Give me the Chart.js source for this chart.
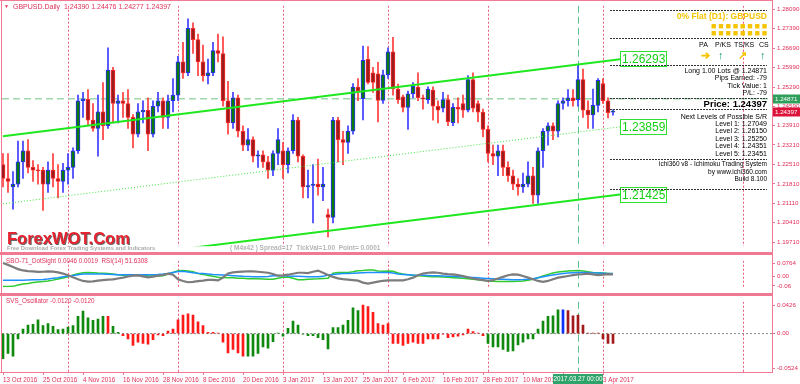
<!DOCTYPE html>
<html><head><meta charset="utf-8">
<script src="https://cdn.jsdelivr.net/npm/chart.js@4.4.0/dist/chart.umd.min.js"></script>
<style>
html,body{margin:0;padding:0;background:#fff;}
#wrap{position:relative;width:800px;height:384px;overflow:hidden;background:#fff;font-family:"Liberation Sans",Arial,sans-serif;}
canvas{position:absolute;left:0;}
.t{position:absolute;white-space:nowrap;line-height:1;}
.ri{position:absolute;right:33px;white-space:nowrap;line-height:1;font-size:7px;color:#000;text-align:right;}
.dash{position:absolute;left:610px;width:157px;height:1px;background:repeating-linear-gradient(to right,#333 0 2px,transparent 2px 3px);}
.pk{position:absolute;background:#f07a94;}
</style></head><body><div id="wrap">
<canvas id="c1" width="800" height="252" style="top:0"></canvas>
<canvas id="c2" width="800" height="38" style="top:255px"></canvas>
<canvas id="c3" width="800" height="88" style="top:296px"></canvas>

<div class="pk" style="left:0;top:0;width:773px;height:1px"></div>
<div class="pk" style="left:1px;top:0;width:1px;height:373px"></div>
<div class="pk" style="left:772px;top:0;width:1px;height:373px"></div>
<div class="pk" style="left:0;top:252px;width:773px;height:3px"></div>
<div class="pk" style="left:0;top:293px;width:773px;height:3px"></div>
<div class="pk" style="left:0;top:372px;width:773px;height:1px"></div>

<div class="t" style="left:4px;top:4px;font-size:5px;color:#e0305a">▼</div>
<div class="t" style="left:13px;top:3px;font-size:7px;color:#e0305a">GBPUSD.Daily&nbsp;&nbsp;1.24390 1.24476 1.24277 1.24397</div>

<div class="dash" style="top:10px"></div>
<div class="ri" style="top:12px;font-size:8.5px;font-weight:bold;color:#f5c400">0% Flat (D1): GBPUSD</div>
<div class="ri" style="top:22px;font-size:9px;color:#f5c400;letter-spacing:1.8px;right:31px">■■■■■■■■</div>
<div class="ri" style="top:29px;font-size:9px;color:#f5c400;letter-spacing:1.8px;right:31px">■■■■■■■■</div>
<div class="dash" style="top:38px"></div>
<div class="t" style="left:699px;top:41px;font-size:7px;color:#000">PA</div>
<div class="t" style="left:715px;top:41px;font-size:7px;color:#000">P/KS</div>
<div class="t" style="left:734px;top:41px;font-size:7px;color:#000">TS/KS</div>
<div class="t" style="left:759px;top:41px;font-size:7px;color:#000">CS</div>
<div class="t" style="left:701px;top:50px;font-size:11px;font-weight:bold;color:#f5c400">➔</div>
<div class="t" style="left:718px;top:50px;font-size:11px;font-weight:bold;color:#12a060">↑</div>
<div class="t" style="left:738px;top:50px;font-size:11px;font-weight:bold;color:#f5c400">↗</div>
<div class="t" style="left:760px;top:50px;font-size:11px;font-weight:bold;color:#12a060">↑</div>
<div class="dash" style="top:65px"></div>
<div class="ri" style="top:67px">Long 1.00 Lots @ 1.24871</div>
<div class="ri" style="top:74px">Pips Earned: -79</div>
<div class="ri" style="top:82px">Tick Value: 1</div>
<div class="ri" style="top:89px">P/L: -79</div>
<div class="dash" style="top:98px"></div>
<div class="ri" style="top:99px;font-size:9.5px;font-weight:bold">Price: 1.24397</div>
<div class="dash" style="top:109px"></div>
<div class="ri" style="top:113px">Next Levels of Possible S/R</div>
<div class="ri" style="top:120px">Level 1: 1.27049</div>
<div class="ri" style="top:127px">Level 2: 1.26150</div>
<div class="ri" style="top:135px">Level 3: 1.25250</div>
<div class="ri" style="top:142px">Level 4: 1.24351</div>
<div class="ri" style="top:150px">Level 5: 1.23451</div>
<div class="dash" style="top:159px"></div>
<div class="ri" style="top:161px;font-size:6.5px">ichi360 v8 - Ichimoku Trading System</div>
<div class="ri" style="top:169px;font-size:6.5px">by www.ichi360.com</div>
<div class="ri" style="top:176px;font-size:6.5px">Build 8.100</div>
<div class="dash" style="top:189px"></div>

<div class="t" style="left:7px;top:230px;font-size:16.5px;font-weight:bold;color:#e8222e;text-shadow:1px 1px 0 #666">ForexWOT.Com</div>
<div class="t" style="left:7px;top:246px;font-size:5.8px;font-weight:bold;color:#aaa">Free Download Forex Trading Systems and Indicators</div>
<div class="t" style="left:230px;top:245px;font-size:6.5px;font-weight:bold;color:#b4b4b4">( M4x42 ) Spread=17&nbsp; TickVal=1.00&nbsp; Point= 0.0001</div>
<div class="t" style="left:6px;top:258px;font-size:6.3px;color:#e0305a">SBO-71_DotSight 0.0046 0.0019&nbsp; RSI(14) 51.6308</div>
<div class="t" style="left:6px;top:298px;font-size:6.3px;color:#e0305a">SVS_Oscillator -0.0120 -0.0120</div>
</div>
<script>
// ---------- DATA ----------
const OPEN  = [1.2250,1.2200,1.2170,1.2180,1.2260,1.2300,1.2240,1.2230,1.2230,1.2180,1.2230,1.2200,1.2190,1.2230,1.2240,1.2300,1.2480,1.2485,1.2410,1.2380,1.2440,1.2390,1.2590,1.2470,1.2480,1.2470,1.2420,1.2360,1.2440,1.2445,1.2360,1.2460,1.2480,1.2420,1.2480,1.2500,1.2620,1.2580,1.2740,1.2700,1.2620,1.2570,1.2580,1.2660,1.2650,1.2480,1.2400,1.2490,1.2370,1.2320,1.2340,1.2280,1.2285,1.2260,1.2230,1.2290,1.2300,1.2250,1.2300,1.2410,1.2280,1.2170,1.2175,1.2180,1.2170,1.2070,1.2060,1.2410,1.2340,1.2330,1.2370,1.2529,1.2487,1.2629,1.2580,1.2577,1.2481,1.2573,1.2656,1.2522,1.2494,1.2456,1.2505,1.2529,1.2488,1.2484,1.2518,1.2460,1.2453,1.2484,1.2401,1.2456,1.2470,1.2446,1.2556,1.2470,1.2439,1.2377,1.2290,1.2280,1.2300,1.2240,1.2210,1.2180,1.2170,1.2180,1.2210,1.2140,1.2300,1.2370,1.2390,1.2370,1.2470,1.2480,1.2490,1.2484,1.2556,1.2446,1.2429,1.2463,1.2542,1.2480,1.24390];
const HIGH  = [1.2290,1.2290,1.2225,1.2335,1.2335,1.2340,1.2265,1.2250,1.2240,1.2260,1.2290,1.2250,1.2255,1.2290,1.2310,1.2500,1.2510,1.2520,1.2470,1.2500,1.2545,1.2670,1.2600,1.2500,1.2510,1.2520,1.2430,1.2470,1.2480,1.2490,1.2480,1.2510,1.2490,1.2500,1.2560,1.2640,1.2690,1.2775,1.2760,1.2720,1.2680,1.2630,1.2690,1.2720,1.2710,1.2550,1.2510,1.2500,1.2390,1.2380,1.2350,1.2300,1.2300,1.2280,1.2300,1.2380,1.2330,1.2310,1.2430,1.2420,1.2285,1.2230,1.2250,1.2270,1.2240,1.2090,1.2420,1.2420,1.2370,1.2390,1.2542,1.2560,1.2677,1.2675,1.2600,1.2618,1.2590,1.2670,1.2708,1.2540,1.2500,1.2515,1.2545,1.2580,1.2500,1.2530,1.2530,1.2480,1.2510,1.2500,1.2470,1.2490,1.2500,1.2570,1.2580,1.2480,1.2450,1.2390,1.2320,1.2320,1.2320,1.2260,1.2230,1.2200,1.2220,1.2260,1.2240,1.2310,1.2380,1.2400,1.2400,1.2480,1.2490,1.2520,1.2520,1.2611,1.2594,1.2480,1.2522,1.2560,1.2560,1.2490,1.24476];
const LOW   = [1.2170,1.2150,1.2090,1.2170,1.2200,1.2220,1.2190,1.2180,1.2085,1.2150,1.2170,1.2130,1.2150,1.2180,1.2200,1.2290,1.2420,1.2390,1.2370,1.2280,1.2340,1.2380,1.2400,1.2400,1.2420,1.2380,1.2310,1.2350,1.2400,1.2300,1.2350,1.2440,1.2380,1.2380,1.2440,1.2480,1.2560,1.2570,1.2650,1.2570,1.2550,1.2540,1.2570,1.2620,1.2460,1.2360,1.2380,1.2350,1.2300,1.2300,1.2260,1.2240,1.2240,1.2200,1.2210,1.2250,1.2200,1.2220,1.2290,1.2260,1.2130,1.2130,1.2040,1.2140,1.2120,1.1990,1.2040,1.2260,1.2250,1.2290,1.2360,1.2480,1.2411,1.2540,1.2510,1.2404,1.2470,1.2560,1.2500,1.2470,1.2440,1.2377,1.2490,1.2480,1.2450,1.2470,1.2410,1.2400,1.2440,1.2390,1.2390,1.2400,1.2420,1.2440,1.2440,1.2405,1.2350,1.2260,1.2250,1.2210,1.2210,1.2190,1.2160,1.2140,1.2150,1.2170,1.2110,1.2110,1.2240,1.2320,1.2340,1.2350,1.2450,1.2460,1.2460,1.2460,1.2420,1.2380,1.2380,1.2440,1.2470,1.2418,1.24277];
const CLOSE = [1.2200,1.2190,1.2180,1.2260,1.2300,1.2240,1.2230,1.2228,1.2180,1.2230,1.2200,1.2190,1.2230,1.2240,1.2300,1.2480,1.2485,1.2410,1.2380,1.2440,1.2390,1.2590,1.2470,1.2480,1.2470,1.2420,1.2360,1.2440,1.2445,1.2360,1.2460,1.2480,1.2420,1.2480,1.2500,1.2620,1.2580,1.2740,1.2700,1.2620,1.2570,1.2580,1.2660,1.2650,1.2480,1.2400,1.2490,1.2370,1.2320,1.2340,1.2280,1.2285,1.2260,1.2230,1.2290,1.2340,1.2250,1.2300,1.2410,1.2280,1.2170,1.2175,1.2180,1.2170,1.2180,1.2060,1.2410,1.2340,1.2330,1.2370,1.2529,1.2515,1.2625,1.2546,1.2546,1.2481,1.2573,1.2656,1.2522,1.2484,1.2456,1.2505,1.2532,1.2491,1.2487,1.2522,1.2460,1.2446,1.2484,1.2405,1.2456,1.2450,1.2446,1.2556,1.2453,1.2439,1.2377,1.2290,1.2280,1.2300,1.2240,1.2210,1.2180,1.2170,1.2180,1.2210,1.2140,1.2300,1.2370,1.2390,1.2370,1.2470,1.2480,1.2490,1.2480,1.2556,1.2446,1.2429,1.2463,1.2553,1.2480,1.2437,1.24397];

const PRICE_TICKS = [1.28090,1.27390,1.26690,1.25990,1.25290,1.24590,1.23910,1.23210,1.22510,1.21810,1.21110,1.20410,1.19710];
const PRICE_TICK_LABELS = ['1.28090','1.27390','1.26690','1.25990','1.25290','1.24590','1.23910','1.23210','1.22510','1.21810','1.21110','1.20410','1.19710'];
const X_TICK_IDX = [0,8,16,24,32,40,48,56,64,72,80,88,96,104,112,120];
const X_TICK_LABELS = ['13 Oct 2016','25 Oct 2016','4 Nov 2016','16 Nov 2016','28 Nov 2016','8 Dec 2016','20 Dec 2016','3 Jan 2017','13 Jan 2017','25 Jan 2017','6 Feb 2017','16 Feb 2017','28 Feb 2017','10 Mar 2017','22 Mar 2017','3 Apr 2017'];
const MONTH_START_IDX = [13,35,56,77,97,120,148];
const CROSS_IDX = 115;
const CROSS_LABEL = '2017.03.27 00:00';
const ORDER_PRICE = 1.24871, ORDER_LABEL = '1.24871';
const LAST_PRICE = 1.24397, LAST_LABEL = '1.24397';
const CHANNEL_IDX = [0, 123.4];
const CHANNEL_UPPER = [1.2352, 1.26293];
const CHANNEL_MID   = [1.2109, 1.23859];
const CHANNEL_LOWER = [1.1866, 1.21425];
const CHANNEL_LABELS = ['1.26293','1.23859','1.21425'];

const SBO_GRAY  = [0.080,0.068,0.055,0.042,0.034,0.030,0.028,0.025,0.026,0.028,0.027,0.022,0.015,0.005,-0.008,-0.020,-0.030,-0.034,-0.033,-0.028,-0.025,-0.022,-0.020,-0.015,-0.010,-0.003,0.002,0.004,-0.002,-0.008,-0.004,0.002,0.006,0.014,0.008,-0.020,-0.030,-0.038,-0.036,-0.031,-0.028,-0.023,-0.024,-0.027,-0.010,0.016,0.022,0.025,0.027,0.029,0.028,0.026,0.023,0.020,0.012,0.002,0.004,0.008,0.014,0.020,0.020,0.018,0.026,0.033,0.020,0.006,-0.005,-0.014,-0.019,-0.022,-0.025,-0.028,-0.040,-0.046,-0.040,-0.034,-0.029,-0.026,-0.026,-0.026,-0.026,-0.020,-0.010,0.005,0.015,0.020,0.022,0.020,0.015,0.012,0.010,0.005,0.000,-0.008,-0.015,-0.020,-0.025,-0.030,-0.025,-0.015,-0.005,0.005,0.010,0.008,0.000,-0.010,-0.020,-0.030,-0.035,-0.030,-0.020,-0.010,-0.005,0.000,0.005,0.010,0.012,0.015,0.010,0.005,0.008,0.012,0.010];
const SBO_GREEN = [-0.064,-0.064,-0.063,-0.055,-0.048,-0.045,-0.040,-0.036,-0.034,-0.030,-0.025,-0.018,-0.012,-0.004,0.006,0.014,0.020,0.021,0.020,0.018,0.017,0.015,0.012,0.008,0.004,0.006,0.008,0.006,0.003,0.001,0.000,0.000,0.002,0.012,0.022,0.032,0.034,0.030,0.026,0.015,0.010,0.003,-0.002,-0.008,-0.009,-0.010,-0.010,-0.013,-0.014,-0.016,-0.017,-0.017,-0.018,-0.020,-0.019,-0.013,-0.008,-0.006,-0.014,-0.022,-0.022,-0.020,-0.018,-0.017,-0.015,-0.013,0.017,0.021,0.022,0.022,0.026,0.032,0.034,0.037,0.036,0.031,0.029,0.030,0.029,0.018,0.012,0.008,0.004,0.002,0.000,-0.003,-0.005,-0.004,-0.006,-0.008,-0.010,-0.012,-0.014,-0.016,-0.020,-0.022,-0.026,-0.030,-0.032,-0.033,-0.034,-0.034,-0.033,-0.032,-0.030,-0.026,-0.020,-0.010,0.000,0.010,0.018,0.024,0.028,0.030,0.032,0.034,0.030,0.026,0.022,0.020,0.018,0.016,0.014];
const SBO_BLUE  = [-0.026,-0.026,-0.026,-0.026,-0.025,-0.024,-0.023,-0.022,-0.021,-0.018,-0.014,-0.010,-0.005,0.000,0.003,0.008,0.012,0.013,0.013,0.012,0.012,0.011,0.010,0.008,0.008,0.008,0.008,0.008,0.008,0.008,0.008,0.009,0.012,0.016,0.022,0.028,0.029,0.025,0.020,0.017,0.015,0.012,0.009,0.008,0.006,0.004,0.002,0.000,-0.002,-0.003,-0.004,-0.005,-0.005,-0.003,0.002,0.003,0.002,0.000,-0.001,-0.002,-0.003,-0.004,-0.004,-0.004,-0.002,0.006,0.010,0.013,0.015,0.016,0.017,0.019,0.020,0.021,0.021,0.021,0.021,0.021,0.018,0.012,0.010,0.008,0.006,0.005,0.004,0.003,0.002,0.001,0.000,-0.001,-0.002,-0.004,-0.005,-0.007,-0.009,-0.011,-0.013,-0.015,-0.017,-0.019,-0.020,-0.021,-0.022,-0.022,-0.021,-0.019,-0.016,-0.011,-0.005,0.001,0.006,0.011,0.015,0.018,0.020,0.022,0.022,0.021,0.019,0.018,0.017,0.016,0.015];
const SBO_TICKS = [0.0764, 0, -0.06];
const SBO_TICK_LABELS = ['0.0764','0.00','-0.06'];

const SVS = [-0.038,-0.030,-0.034,-0.008,0.007,0.013,0.014,0.021,0.012,0.015,0.011,0.006,0.007,0.010,0.012,0.026,0.034,0.024,0.020,0.022,0.026,0.026,0.011,0.002,-0.003,-0.008,-0.018,-0.013,-0.015,-0.016,-0.009,-0.002,-0.003,0.004,0.007,0.021,0.028,0.030,0.028,0.018,0.012,0.002,0.002,0.0005,-0.013,-0.029,-0.024,-0.029,-0.034,-0.034,-0.034,-0.030,-0.020,-0.022,-0.012,0.0005,-0.004,0.008,0.019,0.013,-0.001,-0.003,-0.003,-0.006,-0.009,-0.023,0.009,0.009,0.013,0.020,0.039,0.035,0.043,0.041,0.032,0.015,0.013,0.015,-0.015,-0.015,-0.018,-0.015,-0.013,-0.015,-0.015,-0.008,-0.008,-0.008,-0.001,-0.006,-0.005,-0.004,-0.002,0.007,0.003,0.001,-0.003,-0.015,-0.020,-0.020,-0.024,-0.027,-0.026,-0.017,-0.013,-0.008,-0.008,0.007,0.019,0.026,0.027,0.036,0.036,0.035,0.027,0.028,0.013,0.001,0.0005,0.001,-0.008,-0.015,-0.015];
const SVS_STATE = 'gggggggggggggggggggggrggrrrrrrrrrrrrrrrrrrrrrrrrrgggggggggggggggggggggggrrrrrrrrrrrrrrrrrrrrrrrrrgggggggggggggggbmmmmmmmmmm';
const SVS_TICKS = [0.0426, 0, -0.0524];
const SVS_TICK_LABELS = ['0.0426','0.00','-0.0524'];

// ---------- STYLE ----------
Chart.defaults.font.family = '"Liberation Sans", Arial, sans-serif';
const AXIS_TXT = '#e0305a', AXIS_LN = '#f07a94';
const X_MIN = -0.2, X_MAX = 153.8;
const N = CLOSE.length;
const idx = [...Array(N).keys()];
const bull = i => CLOSE[i] >= OPEN[i];

function rightAxis(min, max, ticks, labels){
  return {
    position:'right', min, max,
    afterBuildTicks: s => { s.ticks = ticks.map(v => ({value:v})); },
    afterFit: s => { s.width = 28; },
    ticks:{autoSkip:false, padding:2, color:AXIS_TXT, font:{size:6.2}, callback:(v,i)=>labels[i]},
    grid:{drawOnChartArea:false, drawTicks:true, tickLength:3, color:AXIS_LN},
    border:{display:false}
  };
}
const hiddenX = {type:'linear', min:X_MIN, max:X_MAX, offset:false, display:false, grid:{offset:false}};

const sepPlugin = {
  id:'seps',
  beforeDatasetsDraw(chart){
    const {ctx, chartArea:a, scales:{x}} = chart;
    ctx.save();
    ctx.beginPath(); ctx.rect(a.left, a.top, a.right-a.left, a.bottom-a.top); ctx.clip();
    ctx.lineWidth = 1;
    ctx.strokeStyle = '#f0557a'; ctx.setLineDash([2,2]);
    MONTH_START_IDX.forEach(s => {
      const px = Math.round(x.getPixelForValue(s)) + 0.5;
      ctx.beginPath(); ctx.moveTo(px, a.top); ctx.lineTo(px, a.bottom); ctx.stroke();
    });
    ctx.strokeStyle = '#5cc08a'; ctx.setLineDash([7,4]);
    const cx = Math.round(x.getPixelForValue(CROSS_IDX)) + 0.5;
    ctx.beginPath(); ctx.moveTo(cx, a.top); ctx.lineTo(cx, a.bottom); ctx.stroke();
    ctx.restore();
  }
};

const boxPlugin = {
  id:'boxes',
  afterDraw(chart){
    const {ctx, scales:{x,y}} = chart;
    ctx.save();
    ctx.font = '6.2px "Liberation Sans", Arial'; ctx.textBaseline = 'middle';
    [[ORDER_PRICE, ORDER_LABEL, '#2e9e5b'], [LAST_PRICE, LAST_LABEL, '#dc143c']].forEach(([p, lab, col]) => {
      const py = Math.round(y.getPixelForValue(p));
      ctx.fillStyle = col; ctx.fillRect(773, py-4.5, 27, 9);
      ctx.fillStyle = '#fff'; ctx.fillText(lab, 775, py+0.5);
    });
    const ends = [CHANNEL_UPPER[1], CHANNEL_MID[1], CHANNEL_LOWER[1]];
    const bx = x.getPixelForValue(CHANNEL_IDX[1]);
    ctx.font = '12px "Liberation Sans", Arial';
    ends.forEach((p, k) => {
      const py = Math.round(y.getPixelForValue(p));
      ctx.fillStyle = '#fff'; ctx.fillRect(bx, py-7.5, 46, 15);
      ctx.strokeStyle = '#30e030'; ctx.lineWidth = 1; ctx.strokeRect(Math.round(bx)+0.5, py-7.5, 46, 15);
      ctx.fillStyle = '#14d014'; ctx.fillText(CHANNEL_LABELS[k], bx+2, py+0.5);
    });
    ctx.restore();
  }
};

const timeBoxPlugin = {
  id:'timebox',
  afterDraw(chart){
    const {ctx, scales:{x}, chartArea:a} = chart;
    const cx = x.getPixelForValue(CROSS_IDX);
    ctx.save();
    ctx.fillStyle = '#2ea36a'; ctx.fillRect(cx-25, a.bottom+2, 50, 10);
    ctx.fillStyle = '#fff'; ctx.font = '6.3px "Liberation Sans", Arial'; ctx.textBaseline='middle'; ctx.textAlign='center';
    ctx.fillText(CROSS_LABEL, cx, a.bottom+7.5);
    ctx.restore();
  }
};

const common = {responsive:false, animation:false, plugins:{legend:{display:false}, tooltip:{enabled:false}}};

// ---------- MAIN PRICE PANEL ----------
new Chart(document.getElementById('c1'), {
  type:'bar',
  data:{datasets:[
    {type:'line', data:CHANNEL_IDX.map((v,k)=>({x:v, y:CHANNEL_UPPER[k]})), borderColor:'#1fe81f', borderWidth:2, pointRadius:0, order:1},
    {type:'line', data:CHANNEL_IDX.map((v,k)=>({x:v, y:CHANNEL_MID[k]})), borderColor:'#3ee03e', borderWidth:1, borderDash:[1,2], pointRadius:0, order:1},
    {type:'line', data:CHANNEL_IDX.map((v,k)=>({x:v, y:CHANNEL_LOWER[k]})), borderColor:'#1fe81f', borderWidth:2, pointRadius:0, order:1},
    {type:'line', data:[{x:X_MIN, y:ORDER_PRICE},{x:X_MAX, y:ORDER_PRICE}], borderColor:'#9fd8ae', borderWidth:1.5, borderDash:[7,4], pointRadius:0, order:5},
    {data:idx.map(i=>({x:i, y:[LOW[i], HIGH[i]]})), barThickness:1, grouped:false,
     backgroundColor:idx.map(i=>bull(i)?'#3a3aff':'#ff3a3a'), order:3},
    {data:idx.map(i=>({x:i, y:[Math.min(OPEN[i],CLOSE[i]), Math.max(OPEN[i],CLOSE[i])]})), barThickness:4, grouped:false, minBarLength:1,
     backgroundColor:idx.map(i=>bull(i)?'#0a7a0a':'#9a1c1c'), borderColor:idx.map(i=>bull(i)?'#2a2aff':'#ff2a2a'), borderWidth:1, borderSkipped:false, order:2}
  ]},
  options:{...common, layout:{padding:{left:2, top:1, right:0, bottom:0}},
    scales:{x:hiddenX, y:rightAxis(1.19562, 1.28218, PRICE_TICKS, PRICE_TICK_LABELS)}},
  plugins:[sepPlugin, boxPlugin]
});

// ---------- SBO / RSI PANEL ----------
new Chart(document.getElementById('c2'), {
  type:'line',
  data:{datasets:[
    {data:idx.map(i=>({x:i, y:SBO_GRAY[i]})), borderColor:'#7c7c7c', borderWidth:2.2, pointRadius:0, order:1},
    {data:idx.map(i=>({x:i, y:SBO_BLUE[i]})), borderColor:'#1e90ff', borderWidth:1.5, pointRadius:0, order:2},
    {data:idx.map(i=>({x:i, y:SBO_GREEN[i]})), borderColor:'#2ecc2e', borderWidth:1.5, pointRadius:0, order:3}
  ]},
  options:{...common, layout:{padding:{left:2, top:0, right:0, bottom:0}},
    scales:{x:hiddenX, y:rightAxis(-0.0686, 0.0933, SBO_TICKS, SBO_TICK_LABELS)}},
  plugins:[sepPlugin]
});

// ---------- SVS OSCILLATOR PANEL ----------
const SVS_COLORS = {g:'#0f8a0f', r:'#ff1a1a', b:'#1030ff', m:'#a31a1a'};
new Chart(document.getElementById('c3'), {
  type:'bar',
  data:{datasets:[
    {type:'line', data:[{x:X_MIN,y:0},{x:X_MAX,y:0}], borderColor:'#8a8a8a', borderWidth:1, borderDash:[2,2], pointRadius:0, order:2},
    {data:idx.map(i=>({x:i, y:SVS[i]})), barThickness:2, grouped:false, backgroundColor:idx.map(i=>SVS_COLORS[SVS_STATE[i]]), order:1}
  ]},
  options:{...common, layout:{padding:{left:2, top:0, right:0, bottom:0}},
    scales:{
      x:{type:'linear', min:X_MIN, max:X_MAX, position:'bottom', offset:false,
        afterBuildTicks: s => { s.ticks = X_TICK_IDX.map(v=>({value:v})); },
        afterFit: s => { s.height = 12; },
        ticks:{autoSkip:false, maxRotation:0, align:'start', padding:1, color:AXIS_TXT, font:{size:6.3}, callback:(v,i)=>X_TICK_LABELS[i]},
        grid:{offset:false, drawOnChartArea:false, drawTicks:true, tickLength:3, color:AXIS_LN},
        border:{display:false}},
      y:rightAxis(-0.0580, 0.0482, SVS_TICKS, SVS_TICK_LABELS)
    }},
  plugins:[sepPlugin, timeBoxPlugin]
});
</script>
</body></html>
